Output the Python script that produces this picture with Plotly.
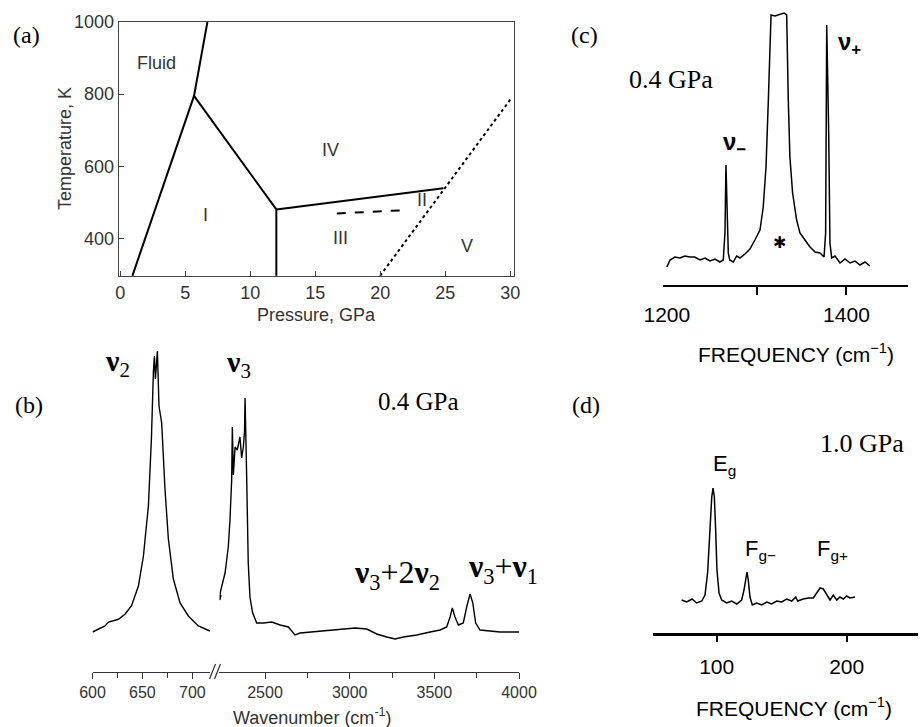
import plotly.graph_objects as go

W, H = 921, 727

# ---------------- data ----------------
# (a) CO2 phase diagram boundaries (Pressure GPa, Temperature K)
melt_P = [0.93, 5.67, 6.7]
melt_T = [296, 795, 1000]
b_I_IV_P = [5.67, 12.0]
b_I_IV_T = [795, 480]
b_I_III_P = [12.0, 12.0]
b_I_III_T = [480, 296]
b_IV_III_P = [12.0, 24.85]
b_IV_III_T = [480, 539]
b_II_III_P = [16.65, 22.15]
b_II_III_T = [469, 478.5]
b_V_P = [19.98, 30.1]
b_V_T = [296, 790]
phase_names = ["Fluid", "I", "IV", "III", "II", "V"]
phase_P = [2.8, 6.54, 16.13, 16.9, 23.2, 26.7]
phase_T = [885, 465, 645, 400, 506, 379]
a_xticks = [0, 5, 10, 15, 20, 25, 30]
a_yticks = [400, 600, 800, 1000]

# (b) IR spectrum at 0.4 GPa (arb. units)
nu2_x = [600, 606, 612.5, 616, 621, 626, 632.5, 639, 646, 651, 656, 659, 661, 662,
         663, 665, 666.6, 669.3, 672.6, 676, 681, 687.7, 696, 706, 717.7]
nu2_y = [0, 2.7, 6, 10, 11.7, 12.7, 17.7, 26, 46, 76, 126, 193, 260, 276,
         253, 281, 226, 209, 143, 93, 53, 29, 16, 6, 1]
hi_x = [2240, 2233, 2236, 2244, 2264, 2283, 2293, 2303, 2307, 2313, 2323, 2336, 2352,
        2362, 2372, 2379, 2382, 2392, 2401, 2411, 2427, 2451, 2490, 2540, 2589, 2638,
        2677, 2707, 2766, 2825, 2903, 2962, 3032, 3101, 3160, 3219, 3268, 3317, 3396,
        3475, 3534, 3573, 3593, 3606, 3622, 3642, 3671, 3691, 3711, 3727, 3744, 3770,
        3829, 3888, 3947, 4000]
hi_y = [37, 32, 40, 45, 59, 85, 112, 152, 205, 157, 185, 182, 195,
        174, 185, 200, 234, 152, 69, 35, 19, 9, 9, 10, 7, 5,
        -3, -1, 0, 1, 2, 3, 4, 3, -2, -5, -7, -5, -3,
        0, 2, 5, 15, 24, 15, 7, 9, 25, 38, 29, 9, 2,
        1, 0, 0, 0]
b_lo_ticks = [600, 650, 700]
b_lo_minor = [625, 675]
b_hi_ticks = [2500, 3000, 3500, 4000]
b_hi_minor = [2750, 3250, 3750]

# (c) Raman, 0.4 GPa
c_x = [1200, 1203.5, 1209, 1214.6, 1220, 1225.7, 1231, 1237, 1242.4, 1248, 1253.6, 1259,
       1262.8, 1264.7, 1265.8, 1267, 1268.4, 1270, 1274, 1277.7, 1281.4, 1287, 1292.5,
       1298, 1303.7, 1307.3, 1310.4, 1313, 1314.8, 1316, 1320.4, 1326, 1330.4, 1333.4,
       1334, 1335.2, 1337, 1340, 1344.5, 1348.2, 1353.8, 1359.4, 1365, 1370.5, 1375,
       1376.8, 1378, 1380.2, 1381.6, 1383.5, 1387.2, 1392.8, 1398.3, 1404, 1409.5,
       1415, 1420.6, 1426]
c_y = [-2, 5, 8, 7, 9, 8, 8, 5, 7, 4, 6, 3,
       5, 32, 100, 48, 12, 5, 3, 9, 7, 11, 16,
       25, 35, 58, 98, 165, 215, 250, 249, 251, 252, 250,
       215, 165, 108, 72, 45, 32, 25, 18, 13, 12, 8,
       32, 240, 132, 22, 7, 9, 2, 6, 2, 4,
       0, 3, -1]
c_ticklabels = [1200, 1400]
c_tickmarks = [1300, 1400]

# (d) Raman lattice modes, 1.0 GPa
d_x = [73, 77, 81, 84.6, 88.5, 91, 93, 94.6, 96.2, 97.2, 98.2, 99.2, 100.2, 101.8,
       103.8, 107.7, 111.5, 115.4, 119.2, 121, 122.3, 123.3, 124.3, 125.6, 127.4,
       130.8, 134.6, 138.5, 142.3, 146.2, 150, 153.8, 157.7, 160.8, 162.3, 166.6,
       170.5, 174.3, 176.9, 179.5, 182, 184.6, 187.2, 189.7, 192.3, 194.8, 197.4,
       200, 202.5, 206.4]
d_y = [2, 0, 3, -1, 1, 7, 29, 65, 105, 114, 105, 72, 32, 9,
       2, -1, 1, -2, 2, 12, 25, 30, 22, 5, -3,
       -1, -3, 0, -2, 1, 0, 3, 1, 5, 1, 3,
       4, 4, 9, 14, 13, 7, 2, 7, 2, 5, 3,
       6, 4, 5]
d_ticks = [100, 200]


def px(x):
    return x / W


def py(y):
    return 1 - y / H


fig = go.Figure()
# (a)
for P, T, dash in [(melt_P, melt_T, "solid"), (b_I_IV_P, b_I_IV_T, "solid"),
                   (b_I_III_P, b_I_III_T, "solid"), (b_IV_III_P, b_IV_III_T, "solid"),
                   (b_II_III_P, b_II_III_T, "dash"), (b_V_P, b_V_T, "dot")]:
    fig.add_trace(go.Scatter(x=P, y=T, mode="lines", xaxis="x", yaxis="y",
                             line=dict(color="black", width=2, dash=dash),
                             showlegend=False, hoverinfo="skip"))
# (b)
fig.add_trace(go.Scatter(x=nu2_x, y=nu2_y, mode="lines", xaxis="x2", yaxis="y2",
                         line=dict(color="black", width=1.4), showlegend=False))
fig.add_trace(go.Scatter(x=hi_x, y=hi_y, mode="lines", xaxis="x3", yaxis="y2",
                         line=dict(color="black", width=1.4), showlegend=False))
# (c)
fig.add_trace(go.Scatter(x=c_x, y=c_y, mode="lines", xaxis="x4", yaxis="y4",
                         line=dict(color="black", width=1.5), showlegend=False))
# (d)
fig.add_trace(go.Scatter(x=d_x, y=d_y, mode="lines", xaxis="x5", yaxis="y5",
                         line=dict(color="black", width=1.5), showlegend=False))

sans = "Liberation Sans, Arial, sans-serif"
serif = "Liberation Serif, Times New Roman, serif"
gray = "#333333"

ax_a = dict(showgrid=False, zeroline=False, showline=True, mirror=True,
            linecolor="#444444", linewidth=1, ticks="inside", ticklen=5,
            tickcolor="#444444", automargin=False,
            tickfont=dict(family=sans, size=18, color=gray))

fig.update_layout(
    template="none",
    width=W, height=H, margin=dict(l=0, r=0, t=0, b=0, pad=0), autosize=False,
    paper_bgcolor="white", plot_bgcolor="white", showlegend=False,
    xaxis=dict(domain=[px(118.7), px(514)], range=[-0.123, 30.28], anchor="y",
               tickvals=a_xticks, **ax_a),
    yaxis=dict(domain=[py(276), py(22)], range=[295.4, 1000], anchor="x",
               tickvals=a_yticks, **ax_a),
    xaxis2=dict(domain=[px(92.5), px(210.3)], range=[600, 718], anchor="y2",
                showgrid=False, zeroline=False, showline=True, linecolor=gray,
                linewidth=1, ticks="outside", ticklen=6, tickcolor=gray,
                tickvals=b_lo_ticks, automargin=False,
                minor=dict(tickvals=b_lo_minor, ticks="outside", ticklen=5, tickcolor=gray),
                tickfont=dict(family=sans, size=16, color=gray)),
    xaxis3=dict(domain=[px(219.3), px(519)], range=[2230, 4000], anchor="y2",
                showgrid=False, zeroline=False, showline=True, linecolor=gray,
                linewidth=1, ticks="outside", ticklen=6, tickcolor=gray,
                tickvals=b_hi_ticks, automargin=False,
                minor=dict(tickvals=b_hi_minor, ticks="outside", ticklen=5, tickcolor=gray),
                tickfont=dict(family=sans, size=16, color=gray)),
    yaxis2=dict(domain=[py(671.5), py(340)], range=[-39.5, 292], anchor="x2",
                visible=False, automargin=False),
    xaxis4=dict(domain=[px(663), px(908)], range=[1195.7, 1468.5], anchor="y4",
                showgrid=False, zeroline=False, showline=True, linecolor="black",
                linewidth=2, ticks="", tickvals=c_ticklabels, automargin=False,
                ticklabelstandoff=10,
                minor=dict(tickvals=c_tickmarks, ticks="outside", ticklen=8,
                           tickcolor="black", tickwidth=2),
                tickfont=dict(family=sans, size=21, color="black")),
    yaxis4=dict(domain=[py(285), py(5)], range=[-20, 260], anchor="x4", visible=False,
                automargin=False),
    xaxis5=dict(domain=[px(653), px(918)], range=[51, 254.85], anchor="y5",
                showgrid=False, zeroline=False, showline=True, linecolor="black",
                linewidth=2.5, ticks="outside", ticklen=6, tickwidth=2,
                tickcolor="black", tickvals=d_ticks, automargin=False,
                ticklabelstandoff=7,
                tickfont=dict(family=sans, size=21, color="black")),
    yaxis5=dict(domain=[py(633.3), py(470)], range=[-31.3, 132], anchor="x5",
                visible=False, automargin=False),
)

ann = []


def txt(text, x, y, size, family, color="black", **kw):
    d = dict(text=text, x=px(x), y=py(y), xref="paper", yref="paper",
             showarrow=False, font=dict(family=family, size=size, color=color),
             xanchor="center", yanchor="middle")
    d.update(kw)
    ann.append(d)


# panel letters
txt("(a)", 26, 35, 24, serif)
txt("(b)", 29, 405, 24, serif)
txt("(c)", 584, 35, 24, serif)
txt("(d)", 586, 405, 24, serif)

# (a) phase labels
for name, P, T in zip(phase_names, phase_P, phase_T):
    ann.append(dict(text=name, x=P, y=T, xref="x", yref="y", showarrow=False,
                    font=dict(family=sans, size=18, color=gray)))
txt("Temperature, K", 65, 149, 18, sans, gray, textangle=-90)
txt("Pressure, GPa", 316, 315, 18, sans, gray)

# (b)
txt("<b>ν</b><sub>2</sub>", 117, 363, 30, serif)
txt("<b>ν</b><sub>3</sub>", 238, 364, 30, serif)
txt("0.4 GPa", 418, 401, 25, serif)
txt("<b>ν</b><sub>3</sub>+2<b>ν</b><sub>2</sub>", 397, 574, 32, serif)
txt("<b>ν</b><sub>3</sub>+<b>ν</b><sub>1</sub>", 503, 568, 32, serif)
txt("Wavenumber (cm<sup>-1</sup>)", 312, 716, 18, sans, gray)

# (c)
txt("0.4 GPa", 671, 79, 26, serif)
txt("<b>ν</b><sub><b>−</b></sub>", 734, 143, 24, sans)
txt("<b>ν</b><sub><b>+</b></sub>", 849, 43, 24, sans)
txt("✱", 779, 243, 16, "DejaVu Sans")
txt("FREQUENCY (cm<sup>−1</sup>)", 796, 353, 21, sans)

# (d)
txt("1.0 GPa", 818, 443, 26, serif, xanchor="left")
txt("E<sub>g</sub>", 724, 465, 22, sans)
txt("F<sub>g−</sub>", 760, 550, 22, sans)
txt("F<sub>g+</sub>", 832, 550, 22, sans)
txt("FREQUENCY (cm<sup>−1</sup>)", 794, 707, 21, sans)

fig.update_layout(annotations=ann)

# axis break marks
for x0 in [209.5, 214.5]:
    fig.add_shape(type="line", xref="paper", yref="paper",
                  x0=px(x0), y0=py(679), x1=px(x0 + 6), y1=py(664),
                  line=dict(color=gray, width=1.2))

fig.write_html("out.html")
